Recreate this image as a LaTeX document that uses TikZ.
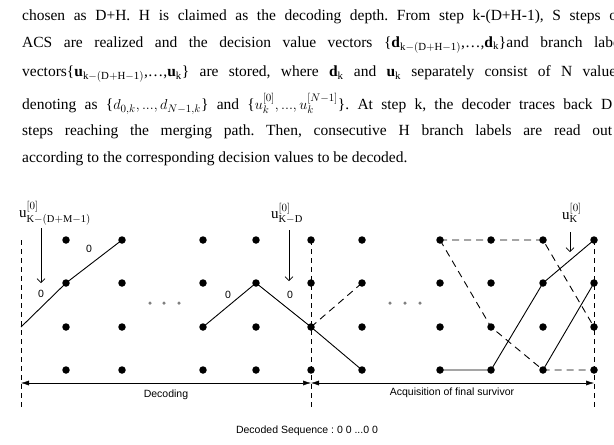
\documentclass[tikz,border=0pt]{standalone}
\usepackage{fontspec}
\setmainfont{Liberation Serif}
\setsansfont{Liberation Sans}
\usetikzlibrary{arrows.meta}
\frenchspacing
\begin{document}
\begin{tikzpicture}[x=1pt,y=-1pt,
  dot/.style={circle,fill=black,inner sep=0pt,minimum size=7.5pt},
  gdot/.style={circle,fill=gray,inner sep=0pt,minimum size=3.5pt},
  para/.style={anchor=west,inner sep=0pt,font=\fontsize{15.5}{18}\selectfont},
  lab/.style={font=\sffamily\fontsize{10.5}{12}\selectfont,inner sep=1pt},
  ulab/.style={font=\fontsize{15}{16}\selectfont,inner sep=0pt},
  path/.style={line width=0.9pt},
  dpath/.style={line width=0.9pt,dash pattern=on 7pt off 5pt},
  vdash/.style={line width=0.6pt,dash pattern=on 5pt off 4pt}]
\useasboundingbox (0,0) rectangle (614,445);
\begin{scope}
\clip (0,0) rectangle (614,445);
\node[para] (l1) at (22,17) {\makebox[600pt][s]{chosen as D+H. H is claimed as the decoding depth. From step k-(D+H-1), S steps of}};
\node[para] (l2) at (22,45) {\makebox[602pt][s]{ACS are realized and the decision value vectors \{$\mathbf{d}_{\mathrm{k-(D+H-1)}}$,\dots,$\mathbf{d}_{\mathrm k}$\}and branch label}};
\node[para] (l3) at (22,74) {\makebox[600pt][s]{vectors\{$\mathbf{u}_{\mathrm{k-(D+H-1)}}$,\dots,$\mathbf{u}_{\mathrm k}$\} are stored, where $\mathbf{d}_{\mathrm k}$ and $\mathbf{u}_{\mathrm k}$ separately consist of N values}};
\node[para] (l4) at (22,104) {\makebox[590pt][s]{denoting as \{$d_{0,k},...,d_{N-1,k}$\} and \{$u_k^{[0]},...,u_k^{[N-1]}$\}. At step k, the decoder traces back D}};
\node[para] (l5) at (22,132) {\makebox[590pt][s]{steps reaching the merging path. Then, consecutive H branch labels are read out}};
\node[para] (l6) at (22,159) {according to the corresponding decision values to be decoded.};
\end{scope}
% grid dots
\foreach \x/\c in {66/a,122/b,203/c,256/d,311/e,362/f,440/g,491/h,543/i,594/j}
  \foreach \y/\r in {240/1,283/2,327/3,370/4}
    \node[dot] (\c\r) at (\x,\y) {};
\foreach \x [count=\i] in {150,164,179,390,405,420} \node[gdot] (q\i) at (\x,303) {};
% vertical dashed lines
\coordinate (v0t) at (21,240); \coordinate (v0b) at (21,410);
\coordinate (v1t) at (311,240); \coordinate (v1b) at (311,410);
\coordinate (v2t) at (594,240); \coordinate (v2b) at (594,410);
\draw[vdash] (v0t) -- (v0b); \draw[vdash] (v1t) -- (v1b); \draw[vdash] (v2t) -- (v2b);
% paths
\coordinate (s0) at (21,327);
\draw[path] (s0) -- (a2.center) -- (b1.center);
\draw[path] (c3.center) -- (d2.center) -- (e3.center) -- (f4.center);
\draw[dpath] (e3.center) -- (f2.center);
\draw[dpath] (g1.center) -- (i1.center) -- (j3.center);
\draw[dpath] (g1.center) -- (h3.center) -- (i4.center) -- (j4.center);
\draw[path] (g4.center) -- (h4.center) -- (i2.center) -- (j1.center);
\draw[path] (i4.center) -- (j2.center);
\node[lab] (z1) at (89,249) {0};
\node[lab] (z2) at (41,294) {0};
\node[lab] (z3) at (228,295) {0};
\node[lab] (z4) at (290,295) {0};
% u labels
\node[ulab] (u1) at (55,213) {u$^{[0]}_{\mathrm{K-(D+M-1)}}$};
\node[ulab] (u2) at (287,213) {u$^{[0]}_{\mathrm{K-D}}$};
\node[ulab] (u3) at (572,213) {u$^{[0]}_{\mathrm{K}}$};
\coordinate (a1s) at (41,228); \coordinate (a1e) at (41,283);
\coordinate (a2s) at (289,230); \coordinate (a2e) at (289,281);
\coordinate (a3s) at (570,232); \coordinate (a3e) at (570,252);
\draw[-{Straight Barb[length=4pt]},line width=0.6pt] (a1s) -- (a1e);
\draw[-{Straight Barb[length=4pt]},line width=0.6pt] (a2s) -- (a2e);
\draw[-{Straight Barb[length=4pt]},line width=0.6pt] (a3s) -- (a3e);
% dimension arrows
\coordinate (d0) at (21,383); \coordinate (d1) at (311,383); \coordinate (d2) at (594,383);
\draw[{Latex[length=8pt,width=5pt]}-{Latex[length=8pt,width=5pt]},line width=0.5pt] (d0) -- (d1);
\draw[{Latex[length=8pt,width=5pt]}-{Latex[length=8pt,width=5pt]},line width=0.5pt] (d1) -- (d2);
\node[lab] (t1) at (166,395) {Decoding};
\node[lab] (t2) at (452,393) {Acquisition of final survivor};
\node[lab] (t3) at (307,431) {Decoded Sequence : 0 0 ...0 0};
\end{tikzpicture}
\end{document}
